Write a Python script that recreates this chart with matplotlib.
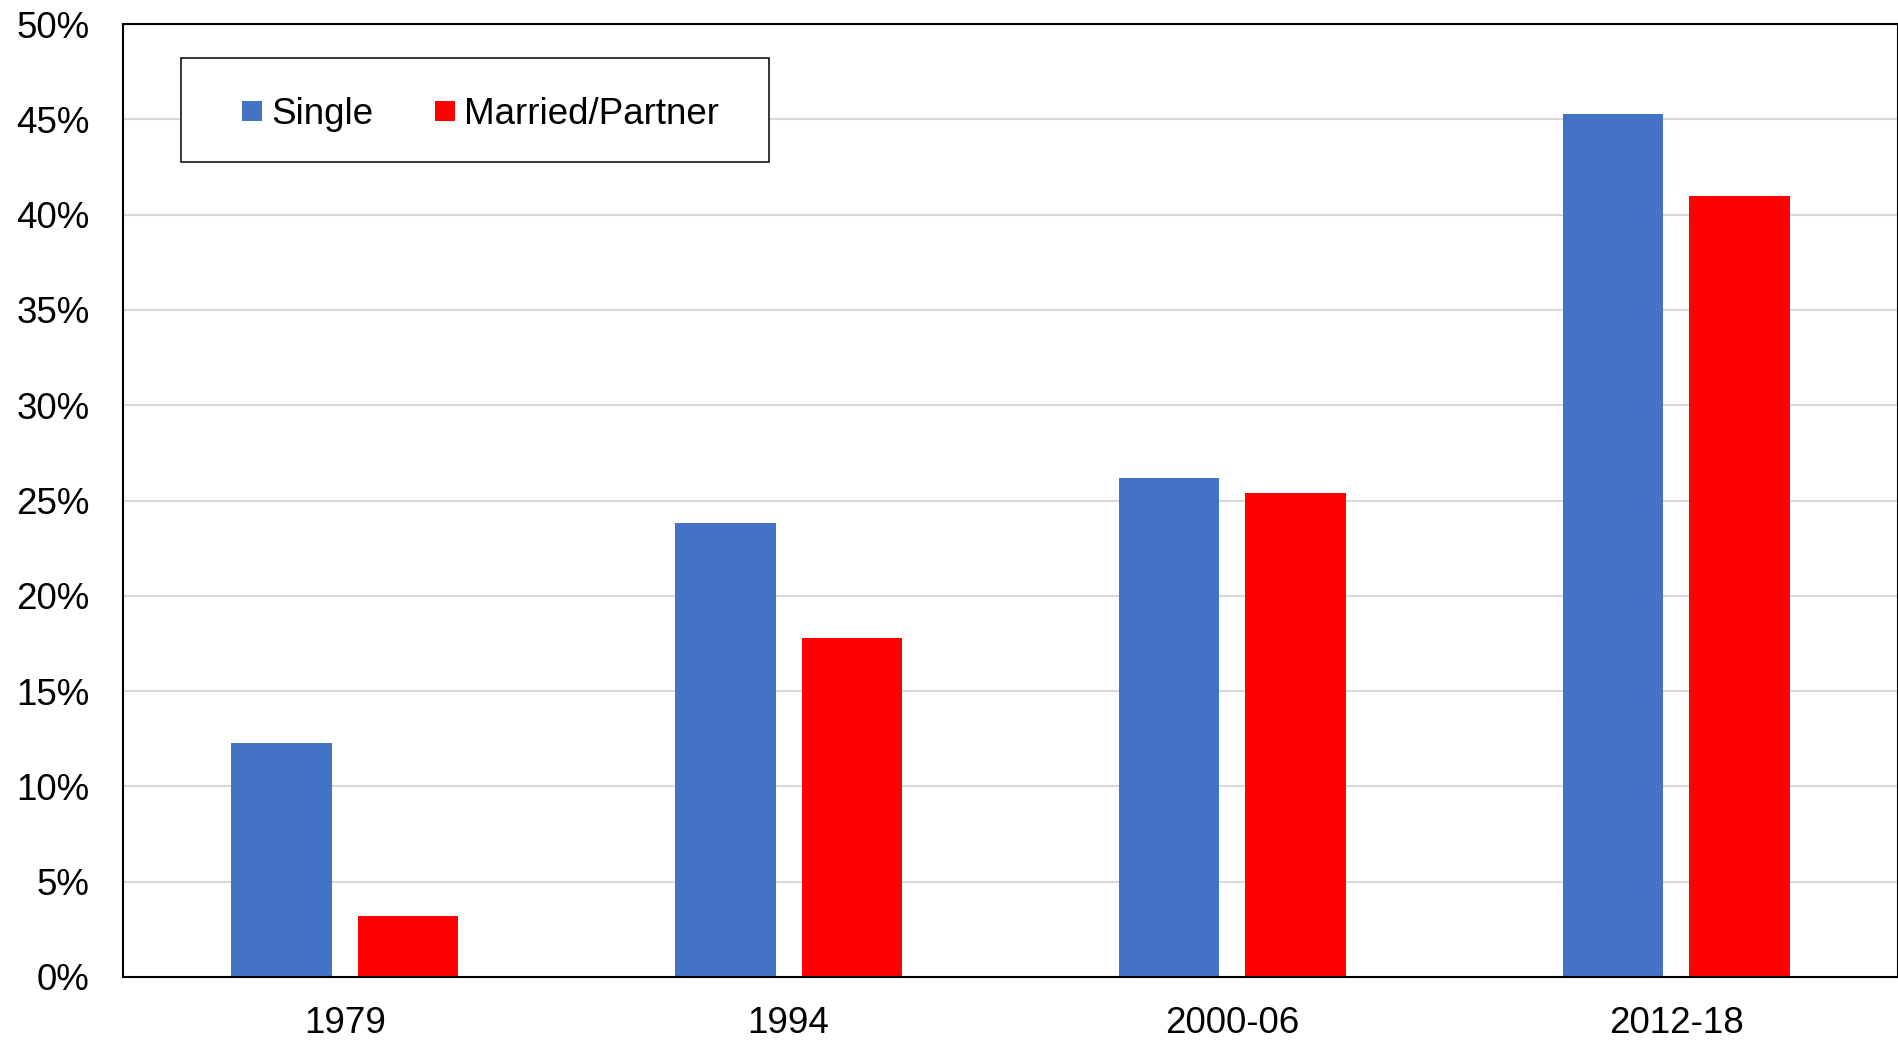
import numpy as np
import matplotlib.pyplot as plt
from matplotlib.patches import Rectangle

plt.rcParams['font.family'] = ['Liberation Sans', 'DejaVu Sans']

periods = ['1979', '1994', '2000-06', '2012-18']
single = [12.3, 23.8, 26.2, 45.3]
married = [3.2, 17.8, 25.4, 41.0]
series_names = ['Single', 'Married/Partner']

COLORS = ['#4472C4', '#FF0000']
FS = 26.5

fig = plt.figure(figsize=(18.99, 10.41), dpi=100)
ax = fig.add_axes([123 / 1899, 64 / 1041, 1775 / 1899, 953 / 1041])

x = np.arange(len(periods))
w = 0.226
off = 0.1425
ax.bar(x - off, single, width=w, color=COLORS[0], label=series_names[0], zorder=2)
ax.bar(x + off, married, width=w, color=COLORS[1], label=series_names[1], zorder=2)

ax.set_xlim(-0.5, len(periods) - 0.5)
ax.set_ylim(0, 50)
ax.set_yticks(np.arange(0, 51, 5))
ax.set_yticklabels([f'{v}%' for v in range(0, 51, 5)])
ax.set_xticks(x)
ax.set_xticklabels(periods)
ax.tick_params(axis='y', length=0, pad=24, labelsize=FS)
ax.tick_params(axis='x', length=0, pad=21, labelsize=FS)

ax.grid(True, axis='y', color='#d9d9d9', linewidth=1.5)
ax.set_axisbelow(True)
for s in ax.spines.values():
    s.set_color('black')
    s.set_linewidth(1.5)

# legend box drawn by hand so the padding can differ per side
ax.add_patch(Rectangle((0.0325, 0.8549), 0.3312, 0.1094, transform=ax.transAxes,
                       facecolor='white', edgecolor='black', linewidth=1.1, zorder=3))
ax.legend(loc='center left', bbox_to_anchor=(0.067, 0.905), frameon=False, ncol=2,
          fontsize=FS, borderpad=0, borderaxespad=0, handlelength=0.543,
          handleheight=0.458, handletextpad=0.255, columnspacing=1.66).set_zorder(4)

fig.savefig('out.png', dpi=100)
plt.close()
